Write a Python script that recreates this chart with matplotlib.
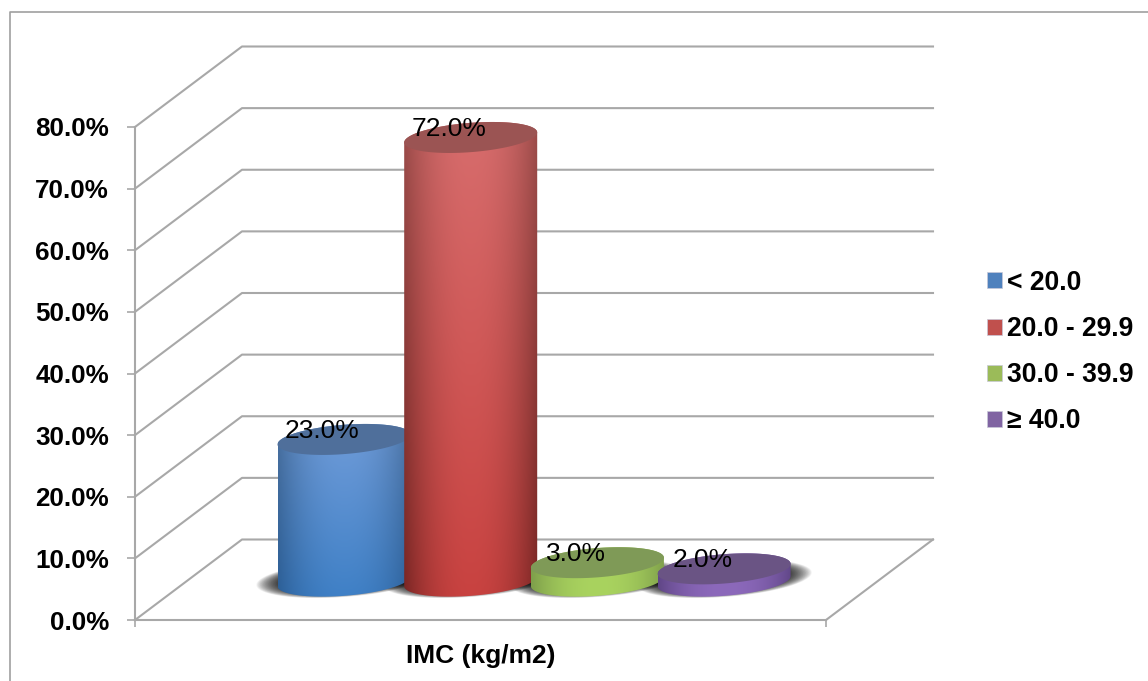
import numpy as np
import matplotlib
matplotlib.use('Agg')
import matplotlib.pyplot as plt
from matplotlib.lines import Line2D
from matplotlib.patches import Patch, Polygon

plt.rcParams['font.family'] = ['Liberation Sans', 'DejaVu Sans']

# donnees IMC
categories = ['< 20.0', '20.0 - 29.9', '30.0 - 39.9', '≥ 40.0']
values = [23.0, 72.0, 3.0, 2.0]
y_ticks = [0, 10, 20, 30, 40, 50, 60, 70, 80]
x_label = 'IMC (kg/m2)'

# couleurs : centre haut, centre bas, bord haut, bord bas, dessus, legende
colors = [
    ('#709cd9', '#3f80c6', '#4a709f', '#2c5f97', '#4f6f9b', '#4f81bd'),
    ('#d76d6d', '#c84240', '#9b4c4a', '#792624', '#9b5453', '#c0504d'),
    ('#a9d25e', '#a9d35f', '#80a04c', '#7d9e4a', '#7f9a57', '#9bbb59'),
    ('#8c69bb', '#8c69bb', '#62488a', '#5f4585', '#6a5484', '#8064a2'),
]

line_col = '#a8a8a8'
fig = plt.figure(figsize=(11.48, 6.81), dpi=100)
W, H = 1148, 681
ax = fig.add_axes([135 / W, 1 - 620 / H, 691 / W, 493 / H])
ax.patch.set_visible(False)

step = 126.7  # pixels entre deux cylindres
x_min, x_max = (135 - 344) / step, (826 - 344) / step
ax.set_xlim(x_min, x_max)
ax.set_ylim(0, 80)
px_y = 80 / 493

depth_x = 107 / step
depth_y = 80.5 * px_y
base_y = 6.3

# ellipse inclinee de la base
rx = 66.5 / step
tilt = 5 * px_y
ry = np.sqrt((15.5 * px_y) ** 2 - tilt ** 2)


def ellipse(cx, cy, t, sx=1.0, sy=1.0):
    xs = cx + sx * rx * np.cos(t)
    ys = cy + sy * (tilt * np.cos(t) + ry * np.sin(t))
    return np.column_stack([xs, ys])


def to_rgb(c):
    return np.array(matplotlib.colors.to_rgb(c))


# murs et sol
for v in y_ticks:
    ax.plot([x_min, x_min + depth_x, x_max + depth_x],
            [v, v + depth_y, v + depth_y],
            color=line_col, lw=1.5, clip_on=False, zorder=1)
ax.plot([x_max, x_max + depth_x], [0, depth_y], color=line_col, lw=1.5,
        clip_on=False, zorder=1)

# ombres au sol
t_all = np.linspace(0, 2 * np.pi, 120)
for i in range(len(values)):
    for s in np.linspace(0, 1, 30):
        ax.add_patch(Polygon(ellipse(i, base_y + 0.4, t_all, 1.0 + 0.32 * s, 0.95 + 0.3 * s),
                             closed=True, fc='black', ec='none', alpha=0.04,
                             clip_on=False, zorder=2))

# cylindres
z = 3
for i, v in enumerate(values):
    c_top, c_bot, e_top, e_bot, cap, _ = colors[i]
    y_top = base_y + v

    u = np.linspace(-1, 1, 160)
    light = (1 - np.abs(u) ** 2.2)[None, :, None]
    mix = np.linspace(0, 1, 120)[:, None, None]
    centre = to_rgb(c_top) * (1 - mix) + to_rgb(c_bot) * mix
    edge = to_rgb(e_top) * (1 - mix) + to_rgb(e_bot) * mix
    shade = edge * (1 - light) + centre * light

    low = ellipse(i, base_y, np.linspace(np.pi, 2 * np.pi, 60))
    high = ellipse(i, y_top, np.linspace(0, np.pi, 60))
    side = Polygon(np.vstack([low, high]), closed=True, transform=ax.transData)
    im = ax.imshow(shade, extent=[i - rx, i + rx, base_y - 2.6, y_top + 2.6],
                   origin='upper', aspect='auto', zorder=z, interpolation='bilinear')
    im.set_clip_path(side)
    im.set_clip_box(fig.bbox)
    ax.add_patch(Polygon(ellipse(i, y_top, t_all), closed=True, fc=cap, ec='none',
                         clip_on=False, zorder=z + 0.5))
    z += 1

ax.set_xlim(x_min, x_max)
ax.set_ylim(0, 80)

# etiquettes de valeur
for i, v in enumerate(values):
    ax.annotate('%.1f%%' % v, xy=(i, base_y + v), xytext=(-15.5, 6.2),
                textcoords='offset points', ha='center', va='center',
                fontsize=19, color='black', zorder=20, annotation_clip=False)

# axes
for side_name in ['top', 'right']:
    ax.spines[side_name].set_visible(False)
for side_name in ['left', 'bottom']:
    ax.spines[side_name].set_color(line_col)
    ax.spines[side_name].set_linewidth(1.5)
ax.set_yticks(y_ticks)
ax.set_yticklabels(['%.1f%%' % v for v in y_ticks], fontsize=18.7, fontweight='bold')
ax.set_xticks([x_min, x_max])
ax.set_xticklabels(['', ''])
ax.tick_params(axis='y', length=5.8, width=1.2, color=line_col, pad=13)
ax.tick_params(axis='x', length=5, width=1.2, color=line_col)
ax.set_xlabel(x_label, fontsize=19, fontweight='bold', labelpad=9)

# legende
handles = [Patch(fc=c[5], ec='#c8c8d8', lw=0.5) for c in colors]
fig.legend(handles, categories, loc='center left', bbox_to_anchor=(987 / W, 1 - 352 / H),
           frameon=False, prop={'size': 19.1, 'weight': 'bold'}, handlelength=0.55,
           handleheight=0.55, handletextpad=0.22, labelspacing=0.76, borderpad=0,
           borderaxespad=0)

# cadre du graphique
fig.add_artist(Line2D([10 / W, 10 / W, 1], [0, 1 - 12 / H, 1 - 12 / H],
                      color='#a0a0a0', lw=1.2))

fig.savefig('out.png', dpi=100)
